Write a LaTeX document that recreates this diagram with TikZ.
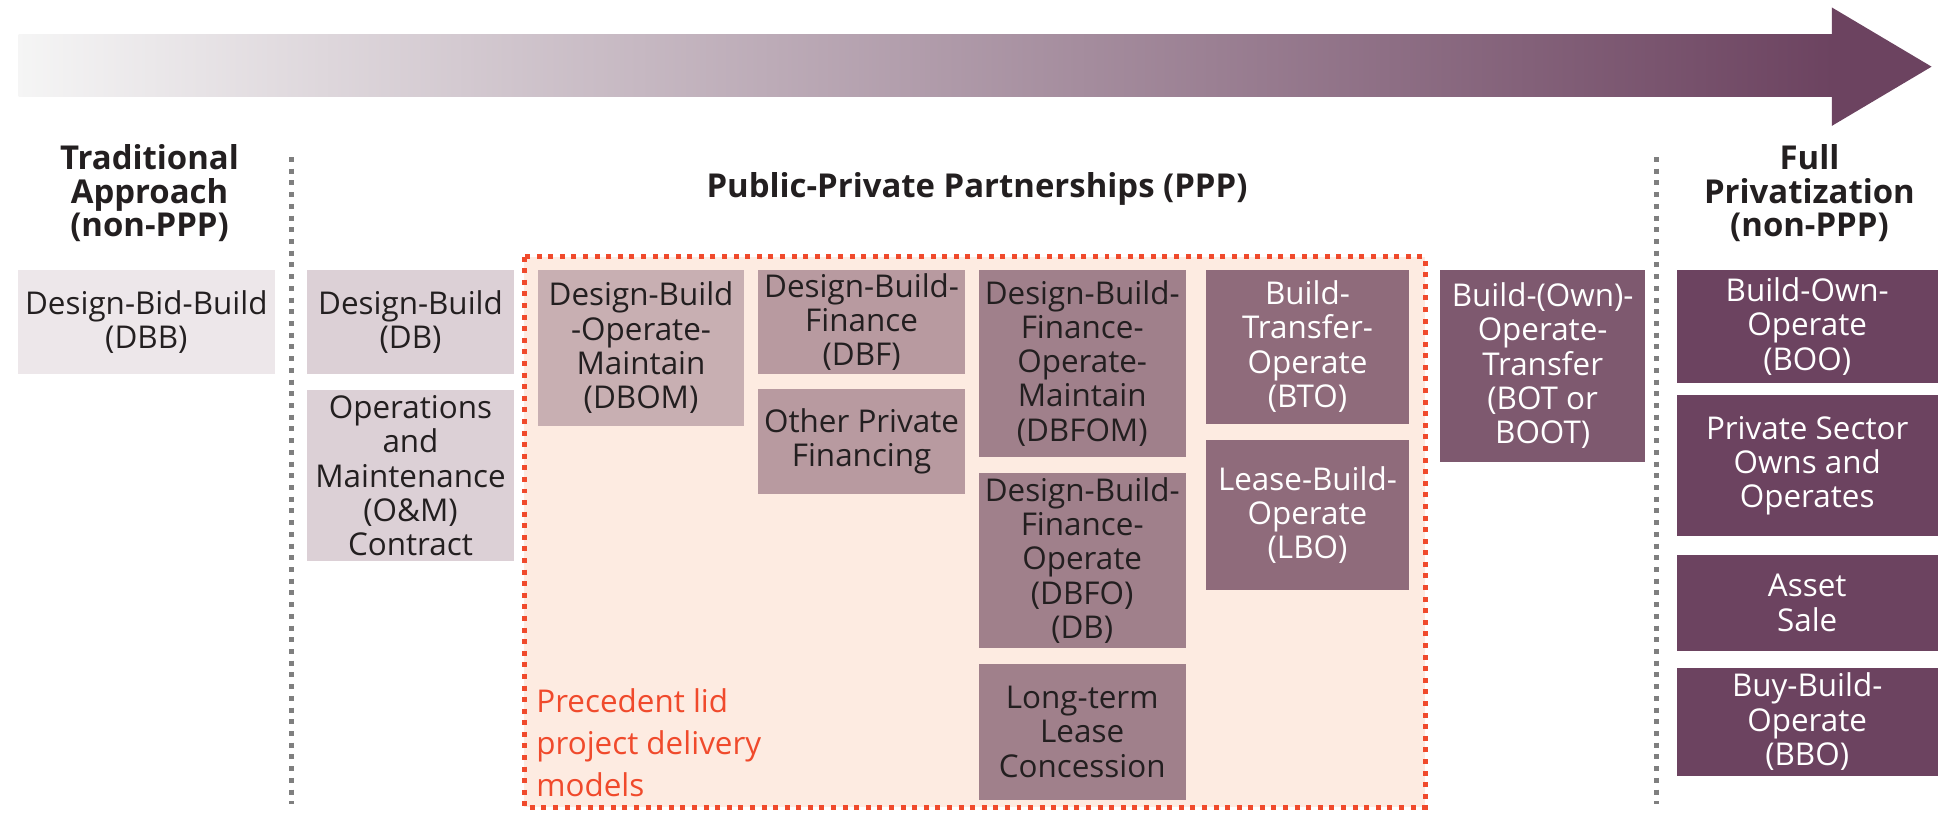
\documentclass[tikz,border=0pt]{standalone}
\usepackage{fontspec}
\setmainfont{Open Sans}
\usepackage{xcolor}
\usetikzlibrary{positioning,calc,backgrounds}

\definecolor{ink}{HTML}{231F20}
\definecolor{tone0}{HTML}{EDE7EA}
\definecolor{tone1}{HTML}{DCD0D6}
\definecolor{tone2}{HTML}{C8AFB2}
\definecolor{tone3}{HTML}{B89AA0}
\definecolor{tone4}{HTML}{A0808B}
\definecolor{tone5}{HTML}{8F6B7B}
\definecolor{tone6}{HTML}{7E596F}
\definecolor{tone7}{HTML}{6C4360}
\definecolor{pppred}{HTML}{F04A2C}
\definecolor{pppfill}{HTML}{FDEBE1}
\definecolor{divider}{HTML}{7F7F7F}

\begin{document}
\begin{tikzpicture}[
  x=0.5pt, y=-0.5pt,
  model/.style={rectangle, inner sep=0pt, align=center, minimum width=83pt, font=\fontsize{12.6}{13.75}\selectfont, text=ink},
  darkmodel/.style={model, text=white},
  head/.style={align=center, inner sep=0pt, font=\fontsize{13.2}{13.6}\selectfont\bfseries, text=ink},
  divline/.style={draw=divider, line width=2pt, dash pattern=on 2pt off 2.7pt},
  zone/.style={fill=pppfill, draw=pppred, line width=2pt, dash pattern=on 2pt off 2.65pt},
  note/.style={align=left, inner sep=0pt, font=\fontsize{12.6}{17}\selectfont, text=pppred}
]
\useasboundingbox (0,0) rectangle (1568,652);

\shade[left color=gray!8, middle color=tone4!85, right color=tone7] (15,27.5) rectangle (1471,77.5);
\fill[tone7] (1470,6) -- (1550,53.5) -- (1470,101) -- cycle;

\node[head] (trad) at (120,155) {Traditional\\Approach\\(non-PPP)};
\node[head] (ppp) at (784,152) {Public-Private Partnerships (PPP)};
\node[head] (full) at (1452,155) {Full\\Privatization\\(non-PPP)};

\draw[divline] (234,126) -- (234,645);
\draw[divline] (1329.5,126) -- (1329.5,645);

\begin{scope}[on background layer]
  \draw[zone] (420.5,206) rectangle (1143.6,647.8);
\end{scope}

\node[model, fill=tone0, minimum width=103pt, minimum height=42pt, anchor=north west] (dbb) at (14,216) {Design-Bid-Build\\(DBB)};

\node[model, fill=tone1, minimum height=42pt, anchor=north west] (db) at (246,216) {Design-Build\\(DB)};
\node[model, fill=tone1, minimum height=68.5pt, below=6pt of db] (om) {Operations\\and\\Maintenance\\(O\&M)\\Contract};

\node[model, fill=tone2, minimum height=62.8pt, anchor=north west] (dbom) at (431,216) {Design-Build\\-Operate-\\Maintain\\(DBOM)};

\node[model, fill=tone3, minimum height=42pt, anchor=north west] (dbf) at (608,216) {Design-Build-\\Finance\\(DBF)};
\node[model, fill=tone3, minimum height=42pt, below=5.6pt of dbf] (opf) {Other Private\\Financing};

\node[model, fill=tone4, minimum height=75pt, anchor=north west] (dbfom) at (785,216) {Design-Build-\\Finance-\\Operate-\\Maintain\\(DBFOM)};
\node[model, fill=tone4, minimum height=70.5pt, below=6pt of dbfom] (dbfo) {Design-Build-\\Finance-\\Operate\\(DBFO)\\(DB)};
\node[model, fill=tone4, minimum height=54.3pt, below=6pt of dbfo] (ltl) {Long-term\\Lease\\Concession};

\node[darkmodel, fill=tone5, minimum width=81.8pt, minimum height=61.8pt, anchor=north west] (bto) at (967,216) {Build-\\Transfer-\\Operate\\(BTO)};
\node[darkmodel, fill=tone5, minimum width=81.8pt, minimum height=60.4pt, below=6pt of bto] (lbo) {Lease-Build-\\Operate\\(LBO)};

\node[darkmodel, fill=tone6, minimum width=82.5pt, minimum height=77pt, anchor=north west] (bot) at (1155,216) {Build-(Own)-\\Operate-\\Transfer\\(BOT or\\BOOT)};

\node[darkmodel, fill=tone7, minimum width=104.8pt, minimum height=45.6pt, anchor=north west] (boo) at (1345,216) {Build-Own-\\Operate\\(BOO)};
\node[darkmodel, fill=tone7, minimum width=104.8pt, minimum height=56.5pt, below=4.4pt of boo] (pso) {Private Sector\\Owns and\\Operates};
\node[darkmodel, fill=tone7, minimum width=104.8pt, minimum height=38.8pt, below=7pt of pso] (asale) {Asset\\Sale};
\node[darkmodel, fill=tone7, minimum width=104.8pt, minimum height=43.3pt, below=6.2pt of asale] (bbo) {Buy-Build-\\Operate\\(BBO)};

\node[note, anchor=west] (prec) at (430,596) {Precedent lid\\project delivery\\models};

\end{tikzpicture}
\end{document}
